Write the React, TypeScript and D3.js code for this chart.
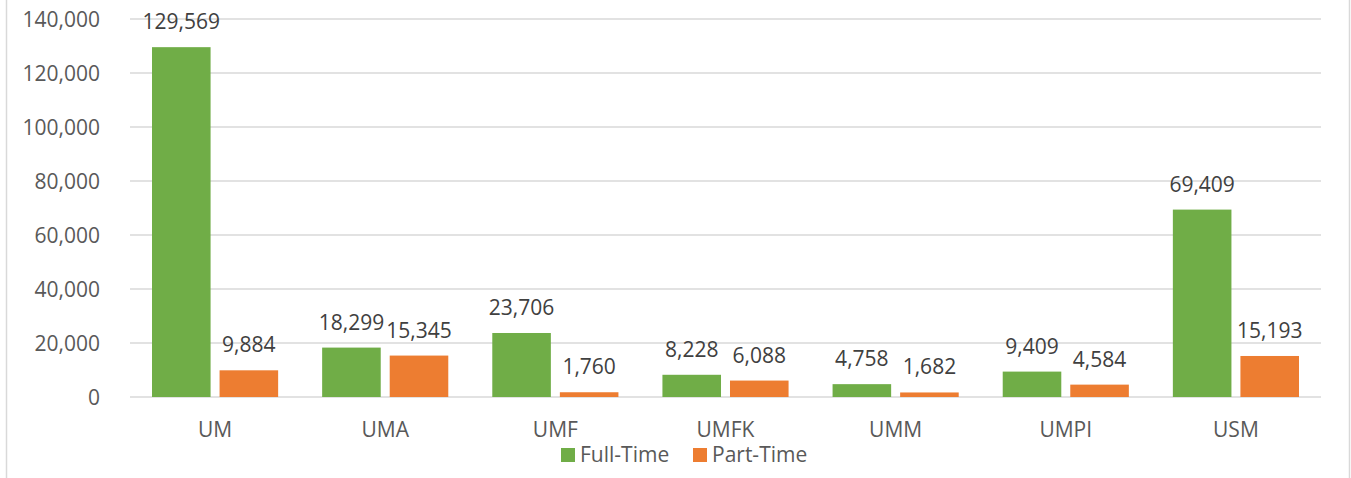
import { useEffect, useRef } from 'react'
import * as d3 from 'd3'

const categories = ['UM', 'UMA', 'UMF', 'UMFK', 'UMM', 'UMPI', 'USM']
const seriesNames = ['Full-Time', 'Part-Time']
const fullTime = [129569, 18299, 23706, 8228, 4758, 9409, 69409]
const partTime = [9884, 15345, 1760, 6088, 1682, 4584, 15193]
const yTicks = [0, 20000, 40000, 60000, 80000, 100000, 120000, 140000]

const colors = ['#70AD47', '#ED7D31']
const W = 1351
const H = 478

const App = () => {
  const ref = useRef<SVGSVGElement>(null)

  useEffect(() => {
    const svg = d3.select(ref.current)
    svg.selectAll('*').remove()

    const font = "'Open Sans', sans-serif"
    const fontSize = 21
    const textColor = '#595959'

    // moldura do gráfico
    svg.append('line').attr('x1', 6.5).attr('x2', 6.5).attr('y1', 0).attr('y2', H)
      .attr('stroke', '#d9d9d9').attr('stroke-width', 1.5)
    svg.append('line').attr('x1', 1349.5).attr('x2', 1349.5).attr('y1', 0).attr('y2', H)
      .attr('stroke', '#d9d9d9').attr('stroke-width', 1.5)

    const x0 = d3.scaleBand<string>().domain(categories).range([130, 1321])
    const x1 = d3.scaleBand<string>().domain(seriesNames).range([22, x0.bandwidth() - 22]).paddingInner(0.133)
    const y = d3.scaleLinear().domain([0, 140000]).range([397, 19])

    // linhas de grade + rótulos do eixo Y
    const grid = svg.append('g')
    grid.selectAll('line').data(yTicks).join('line')
      .attr('x1', 130).attr('x2', 1321)
      .attr('y1', (d) => y(d)).attr('y2', (d) => y(d))
      .attr('stroke', '#d9d9d9').attr('stroke-width', 1.5)
    grid.selectAll('text').data(yTicks).join('text')
      .attr('x', 100).attr('y', (d) => y(d) + 8)
      .attr('text-anchor', 'end')
      .attr('font-family', font).attr('font-size', fontSize).attr('fill', textColor)
      .text((d) => d3.format(',')(d))

    const rows = categories.map((c, i) => ({ cat: c, values: [fullTime[i], partTime[i]] }))

    const groups = svg.append('g').selectAll('g').data(rows).join('g')
      .attr('transform', (d) => `translate(${x0(d.cat)},0)`)

    groups.selectAll('rect')
      .data((d) => d.values.map((v, i) => ({ name: seriesNames[i], v, i })))
      .join('rect')
      .attr('x', (d) => x1(d.name)!)
      .attr('width', x1.bandwidth())
      .attr('y', (d) => y(d.v))
      .attr('height', (d) => y(0) - y(d.v))
      .attr('fill', (d) => colors[d.i])

    groups.selectAll('text.val')
      .data((d) => d.values.map((v, i) => ({ name: seriesNames[i], v })))
      .join('text')
      .attr('class', 'val')
      .attr('x', (d) => x1(d.name)! + x1.bandwidth() / 2)
      .attr('y', (d) => y(d.v) - 18)
      .attr('text-anchor', 'middle')
      .attr('font-family', font).attr('font-size', fontSize).attr('fill', '#404040')
      .text((d) => d3.format(',')(d.v))

    // rótulos das categorias
    svg.append('g').selectAll('text').data(categories).join('text')
      .attr('x', (d) => x0(d)! + x0.bandwidth() / 2)
      .attr('y', 437)
      .attr('text-anchor', 'middle')
      .attr('font-family', font).attr('font-size', fontSize).attr('fill', textColor)
      .text((d) => d)

    // legenda
    const legendX = [561, 693]
    const legend = svg.append('g').selectAll('g').data(seriesNames).join('g')
      .attr('transform', (_, i) => `translate(${legendX[i]},448)`)
    legend.append('rect').attr('width', 14).attr('height', 14).attr('fill', (_, i) => colors[i])
    legend.append('text').attr('x', 19).attr('y', 14)
      .attr('font-family', font).attr('font-size', fontSize).attr('fill', textColor)
      .text((d) => d)
  }, [])

  return (
    <svg
      ref={ref}
      width={W}
      height={H}
      style={{ position: 'absolute', left: 0, top: 0, background: '#fff' }}
    />
  )
}

export default App
